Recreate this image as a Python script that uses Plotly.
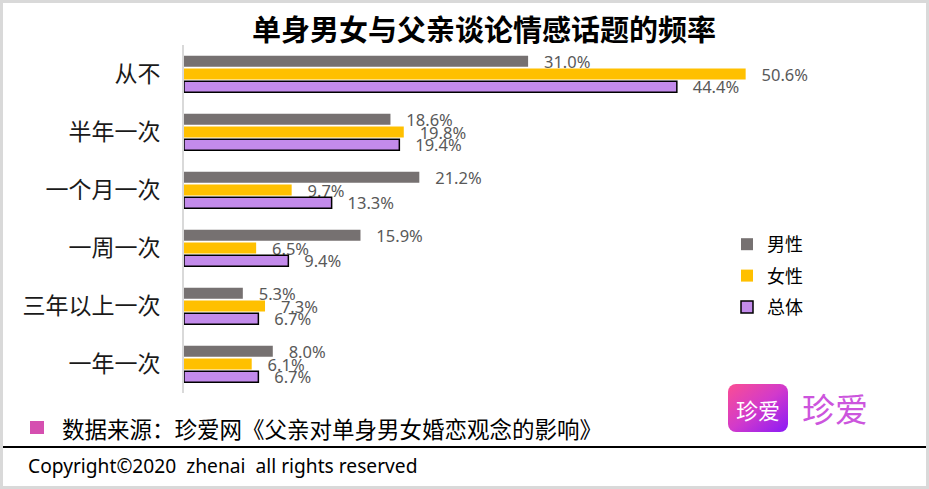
import plotly.graph_objects as go

categories = ["从不", "半年一次", "一个月一次", "一周一次", "三年以上一次", "一年一次"]
male = [31.0, 18.6, 21.2, 15.9, 5.3, 8.0]
female = [50.6, 19.8, 9.7, 6.5, 7.3, 6.1]
total = [44.4, 19.4, 13.3, 9.4, 6.7, 6.7]
series_names = ["男性", "女性", "总体"]

W, H = 929, 489
L, R, T, B = 184, 129, 45, 96
PW, PH = W - L - R, H - T - B


def px(x):
    return (x - L) / PW


def py(y):
    return (H - B - y) / PH


fig = go.Figure()
colors = ["#767171", "#FFC000", "#C38BEB"]
lines = [dict(width=0), dict(width=0), dict(color="#000000", width=1.5)]
for name, vals, c, ln in zip(series_names, [male, female, total], colors, lines):
    fig.add_trace(go.Bar(
        y=categories, x=vals, name=name, orientation="h",
        marker=dict(color=c, line=ln),
        texttemplate="   %{x:.1f}%", textposition="outside",
        constraintext="none", cliponaxis=False,
        textfont=dict(family="Noto Sans", size=16.5, color="#595959"),
        legendgroup=name,
    ))

fig.update_layout(
    width=W, height=H,
    margin=dict(l=L, r=R, t=T, b=B),
    paper_bgcolor="white", plot_bgcolor="white",
    barmode="group", bargap=0.34, bargroupgap=0.15,
    showlegend=True,
    legend=dict(x=px(727), y=py(226), xanchor="left", yanchor="top",
                font=dict(family="Noto Sans CJK SC", size=18, color="#000000"),
                tracegroupgap=5, bgcolor="rgba(0,0,0,0)", itemwidth=30),
    title=dict(text="<b>单身男女与父亲谈论情感话题的频率</b>", x=484 / W, xanchor="center",
               y=1 - 31 / H, yanchor="middle",
               font=dict(family="Noto Sans CJK SC", size=29, color="#000000")),
    xaxis=dict(range=[0, PW / 11.1], showgrid=False, showticklabels=False, zeroline=False,
               showline=False, fixedrange=True),
    yaxis=dict(autorange="reversed", showline=True, linecolor="#D9D9D9", linewidth=2,
               ticks="", ticklabelstandoff=17,
               tickfont=dict(family="Noto Sans CJK SC", size=23, color="#1A1A1A")),
)

# border
fig.add_shape(type="rect", xref="paper", yref="paper",
              x0=px(1.5), x1=px(W - 1.5), y0=py(H - 1.5), y1=py(1.5),
              line=dict(color="#D9D9D9", width=3), layer="below")
# footer line
fig.add_shape(type="line", xref="paper", yref="paper",
              x0=px(3), x1=px(W - 3), y0=py(447), y1=py(447),
              line=dict(color="#000000", width=2))
# source square
fig.add_shape(type="rect", xref="paper", yref="paper",
              x0=px(30), x1=px(44), y0=py(434), y1=py(421),
              fillcolor="#D54FB0", line=dict(width=0))
fig.add_annotation(xref="paper", yref="paper", x=px(60), y=py(428), xanchor="left", yanchor="middle",
                   text="数据来源：珍爱网《父亲对单身男女婚恋观念的影响》", showarrow=False,
                   font=dict(family="Noto Sans CJK SC", size=22.5, color="#000000"))
fig.add_annotation(xref="paper", yref="paper", x=px(26), y=py(466), xanchor="left", yanchor="middle",
                   text="Copyright©2020  zhenai  all rights reserved", showarrow=False,
                   font=dict(family="Noto Sans", size=19.2, color="#000000"))

# logo
svg = ("data:image/svg+xml;utf8,"
       "<svg xmlns='http://www.w3.org/2000/svg' width='60' height='48' viewBox='0 0 60 48'>"
       "<defs><linearGradient id='g' x1='0' y1='0' x2='1' y2='1'>"
       "<stop offset='0' stop-color='%23FB4E93'/><stop offset='0.5' stop-color='%23D23ACB'/>"
       "<stop offset='1' stop-color='%238A1AF7'/></linearGradient></defs>"
       "<rect x='0' y='0' width='60' height='48' rx='8' ry='8' fill='url(%23g)'/></svg>")
fig.add_layout_image(source=svg, xref="paper", yref="paper", x=px(728), y=py(384),
                     sizex=60 / PW, sizey=48 / PH, xanchor="left", yanchor="top",
                     sizing="stretch", layer="above")
fig.add_annotation(xref="paper", yref="paper", x=px(758), y=py(409), xanchor="center", yanchor="middle",
                   text="珍爱", showarrow=False,
                   font=dict(family="Noto Sans CJK SC", size=22, color="#FFFFFF"))
fig.add_annotation(xref="paper", yref="paper", x=px(835), y=py(408), xanchor="center", yanchor="middle",
                   text="珍爱", showarrow=False,
                   font=dict(family="Noto Sans CJK SC", size=33, color="#CC55DD"))

fig.write_html("out.html", config={"displayModeBar": False},
               post_script="document.body.style.margin='0';")
